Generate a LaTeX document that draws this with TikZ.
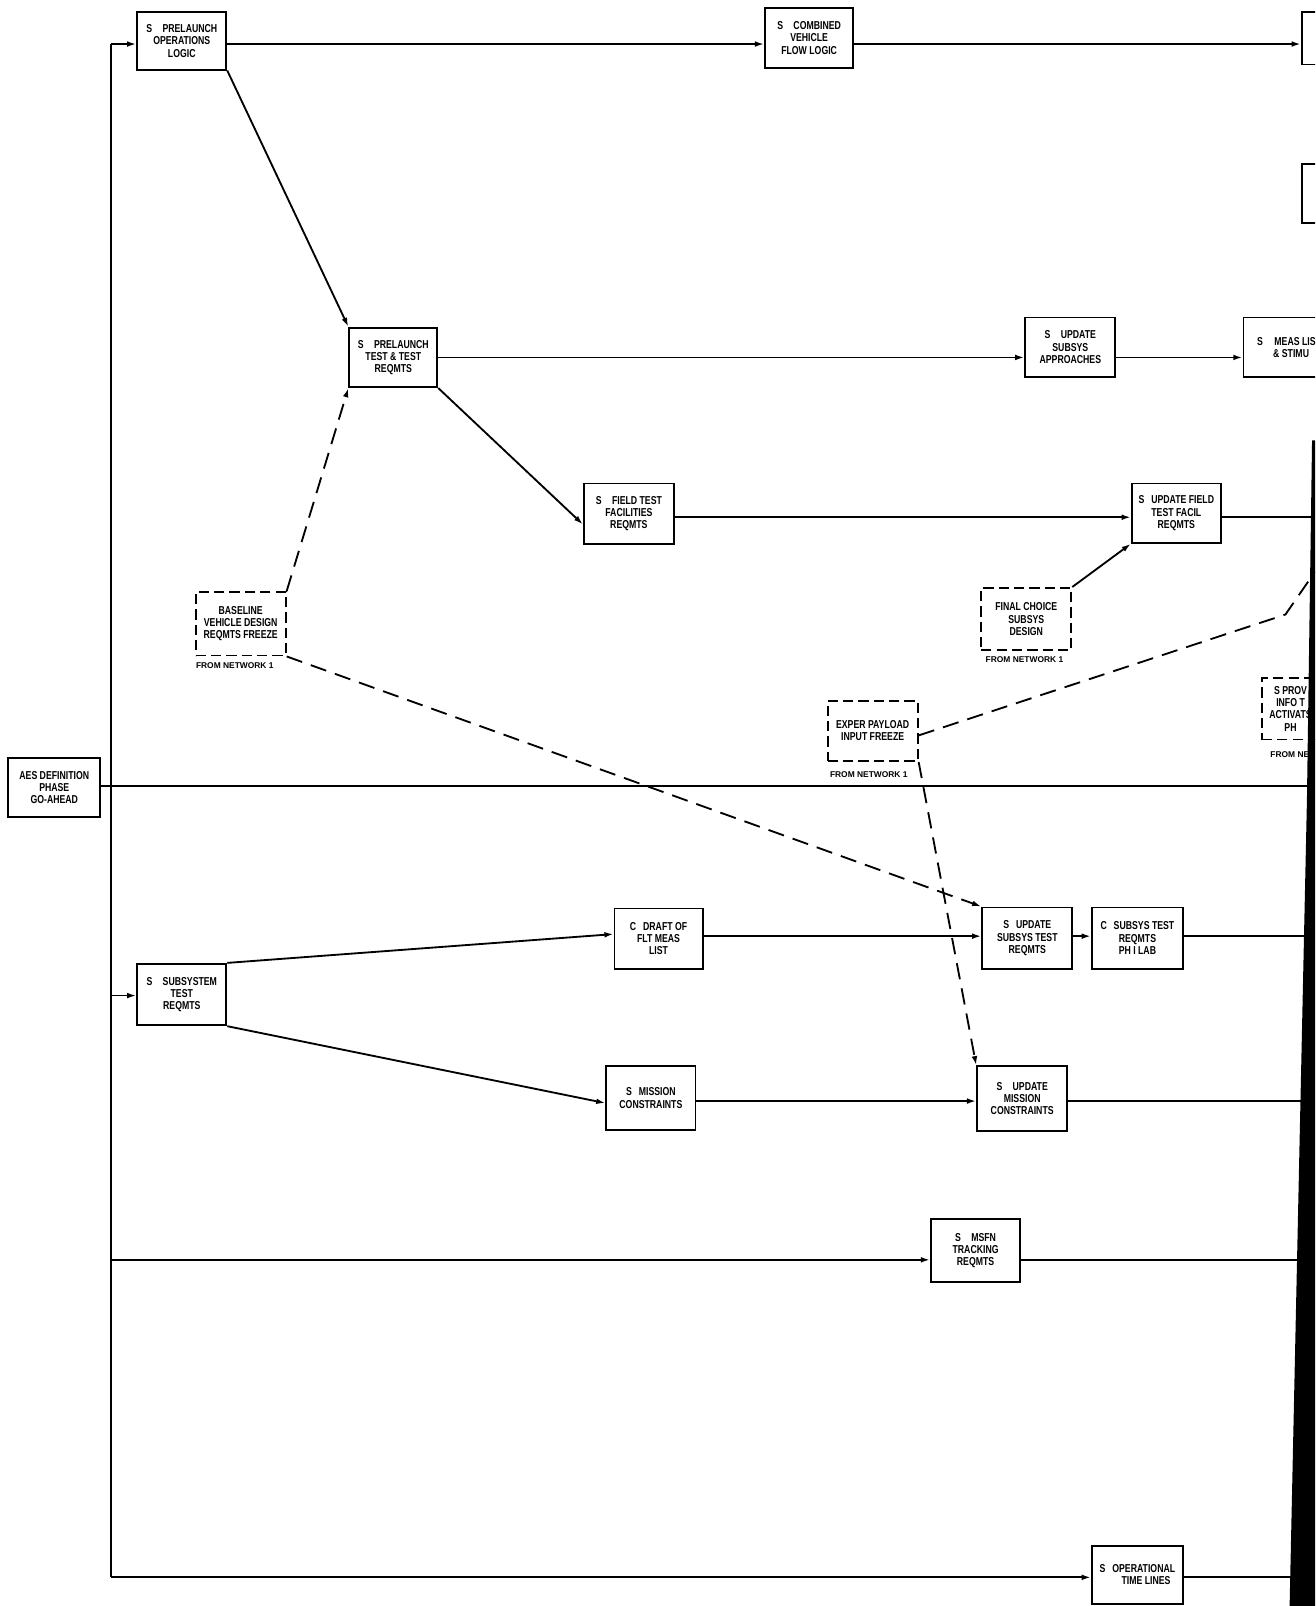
\documentclass[tikz,border=0pt]{standalone}
\usepackage{fontspec}
\usetikzlibrary{arrows.meta,calc}
\newfontfamily\lblfont{Liberation Sans}[FakeStretch=0.76]
\newfontfamily\netfont{Liberation Sans}
\begin{document}
\begin{tikzpicture}[x=0.5pt,y=-0.5pt,
  bx/.style={draw, line width=0.9pt, inner sep=0pt, align=center,
    font=\lblfont\bfseries\fontsize{5.6pt}{6pt}\selectfont},
  dbx/.style={bx, dash pattern=on 5pt off 2.5pt},
  txt/.style={inner sep=0pt, align=center, font=\lblfont\bfseries\fontsize{5.6pt}{6pt}\selectfont},
  net/.style={inner sep=0pt, anchor=west, font=\netfont\bfseries\fontsize{4.1pt}{5pt}\selectfont},
  ln/.style={line width=0.9pt},
  arr/.style={ln, -{Latex[length=4.5pt,width=2.8pt]}},
  dln/.style={ln, dash pattern=on 8pt off 4.5pt},
  darr/.style={dln, -{Latex[length=4.5pt,width=2.8pt]}}]
\useasboundingbox (0,0) rectangle (1284,1568);
\clip (0,0) rectangle (1284,1568);
\fill[white] (0,0) rectangle (1284,1568);

% nodes
\node[bx, minimum width=43.5pt, minimum height=28pt] (plo) at (177.5,40) {S\hspace{0.9em}PRELAUNCH\\OPERATIONS\\LOGIC};
\node[bx, minimum width=43pt, minimum height=29pt] (cvf) at (790,37) {S\hspace{0.9em}COMBINED\\VEHICLE\\FLOW LOGIC};
\node[bx, minimum width=24.5pt, minimum height=25.5pt] (rtop) at (1295.5,37.5) {};
\node[bx, minimum width=24.5pt, minimum height=29pt] (rmid) at (1295.5,189) {};
\node[bx, minimum width=43pt, minimum height=29pt] (ptt) at (384,349) {S\hspace{0.9em}PRELAUNCH\\TEST \& TEST\\REQMTS};
\node[bx, minimum width=44pt, minimum height=29pt] (usa) at (1045,339) {S\hspace{0.9em}UPDATE\hspace{1.2em}\\SUBSYS\\APPROACHES};
\node[bx, minimum width=58pt, minimum height=29pt] (meas) at (1272,339) {};
\node[txt, anchor=west, align=left] (meastx) at (1227,339) {S\hspace{1em}MEAS LIS\\\hspace{1.4em}\& STIMU};
\node[bx, minimum width=44pt, minimum height=29.5pt] (ftf) at (614,501.5) {S\hspace{0.9em}FIELD TEST\\FACILITIES\\REQMTS};
\node[bx, minimum width=43.5pt, minimum height=29pt] (uft) at (1148.5,501) {S\hspace{0.6em}UPDATE FIELD\\TEST FACIL\\REQMTS};
\node[dbx, minimum width=44pt, minimum height=30.5pt] (fcs) at (1002,604.5) {FINAL CHOICE\\SUBSYS\\DESIGN};
\node[dbx, minimum width=44pt, minimum height=31pt] (bvd) at (235,609) {BASELINE\\VEHICLE DESIGN\\REQMTS FREEZE};
\node[dbx, minimum width=44pt, minimum height=29.5pt] (epi) at (852,713.5) {EXPER PAYLOAD\\INPUT FREEZE};
\node[dbx, minimum width=39pt, minimum height=30pt] (prov) at (1271,692) {};
\node[txt] (provtx) at (1260,692) {S PROV\\INFO T\\ACTIVATS\\PH};
\node[bx, minimum width=45pt, minimum height=29pt] (aes) at (53,769) {AES DEFINITION\\PHASE\\GO-AHEAD};
\node[bx, minimum width=43.5pt, minimum height=30pt] (sst) at (177.5,971) {S\hspace{0.9em}SUBSYSTEM\\TEST\\REQMTS};
\node[bx, minimum width=43pt, minimum height=29.5pt] (dfm) at (643,916.5) {C\hspace{0.6em}DRAFT OF\\FLT MEAS\\LIST};
\node[bx, minimum width=44pt, minimum height=30pt] (ust) at (1003,916) {S\hspace{0.6em}UPDATE\hspace{1.2em}\\SUBSYS TEST\\REQMTS};
\node[bx, minimum width=44.5pt, minimum height=30pt] (cst) at (1110.5,916) {C\hspace{0.6em}SUBSYS TEST\\REQMTS\\PH I LAB};
\node[bx, minimum width=43.5pt, minimum height=31pt] (mc) at (635.5,1072) {S\hspace{0.6em}MISSION\hspace{1.5em}\\CONSTRAINTS};
\node[bx, minimum width=44pt, minimum height=31.5pt] (umc) at (998,1072.5) {S\hspace{0.9em}UPDATE\hspace{0.6em}\\MISSION\\CONSTRAINTS};
\node[bx, minimum width=43.5pt, minimum height=31pt] (msfn) at (952.5,1221) {S\hspace{0.9em}MSFN\hspace{1.5em}\\TRACKING\\REQMTS};
\node[bx, minimum width=44.5pt, minimum height=28.5pt] (otl) at (1110.5,1537.5) {S\hspace{0.6em}OPERATIONAL\\\hspace{1.5em}TIME LINES};

% from network labels
\node[net] (n1) at (191,650) {FROM NETWORK 1};
\node[net] (n2) at (962,644) {FROM NETWORK 1};
\node[net] (n3) at (810,756) {FROM NETWORK 1};
\node[net] (n4) at (1240,737) {FROM NE};

% coordinates
\coordinate (sp1) at (108,43);
\coordinate (sp2) at (108,1540);
\coordinate (y349) at (0,349);
\coordinate (y505) at (0,505);
\coordinate (y512) at (0,512);
\coordinate (y767) at (0,767);
\coordinate (y912) at (0,912);
\coordinate (y914) at (0,914);
\coordinate (y972) at (0,972);
\coordinate (y1075) at (0,1075);
\coordinate (y1077) at (0,1077);
\coordinate (y1230) at (0,1230);
\coordinate (ex) at (1284,0);
\coordinate (eb) at (1255,600);
\coordinate (ee) at (1284,558);

% connectors
\draw[ln] (sp1) -- (sp2);
\draw[arr] (sp1) -- (sp1 -| plo.west);
\draw[arr] (plo.east |- sp1) -- (cvf.west |- sp1);
\draw[arr] (cvf.east |- sp1) -- (rtop.west |- sp1);
\draw[arr] (plo.south east) -- (ptt.north west);
\draw[arr] (ptt.east |- y349) -- (usa.west |- y349);
\draw[arr] (usa.east |- y349) -- (meas.west |- y349);
\draw[arr] (ptt.south east) -- (ftf.west |- y512);
\draw[arr] (ftf.east |- y505) -- (uft.west |- y505);
\draw[ln] (uft.east |- y505) -- (ex |- y505);
\draw[arr] (fcs.north east) -- (uft.south west);
\draw[darr] (bvd.north east) -- (ptt.south west);
\draw[darr] (bvd.south east) -- (ust.north west);
\draw[dln] (epi.east |- 0,718) -- (eb) -- (ee);
\draw[darr] (epi.south east) -- (umc.north west);
\draw[ln] (aes.east |- y767) -- (ex |- y767);
\draw[arr] (sp1 |- y972) -- (sst.west |- y972);
\draw[arr] (sst.north east) -- (dfm.west |- y912);
\draw[arr] (sst.south east) -- (mc.west |- y1077);
\draw[arr] (dfm.east |- y914) -- (ust.west |- y914);
\draw[arr] (ust.east |- y914) -- (cst.west |- y914);
\draw[ln] (cst.east |- y914) -- (ex |- y914);
\draw[arr] (mc.east |- y1075) -- (umc.west |- y1075);
\draw[ln] (umc.east |- y1075) -- (ex |- y1075);
\draw[arr] (sp1 |- y1230) -- (msfn.west |- y1230);
\draw[ln] (msfn.east |- y1230) -- (ex |- y1230);
\draw[arr] (sp2) -- (sp2 -| otl.west);
\draw[ln] (otl.east |- sp2) -- (ex |- sp2);

% scanned page edge
\fill[black] (1281,430) -- (1292,430) -- (1292,1572) -- (1259,1572) -- (1276,781) -- cycle;
\end{tikzpicture}
\end{document}
